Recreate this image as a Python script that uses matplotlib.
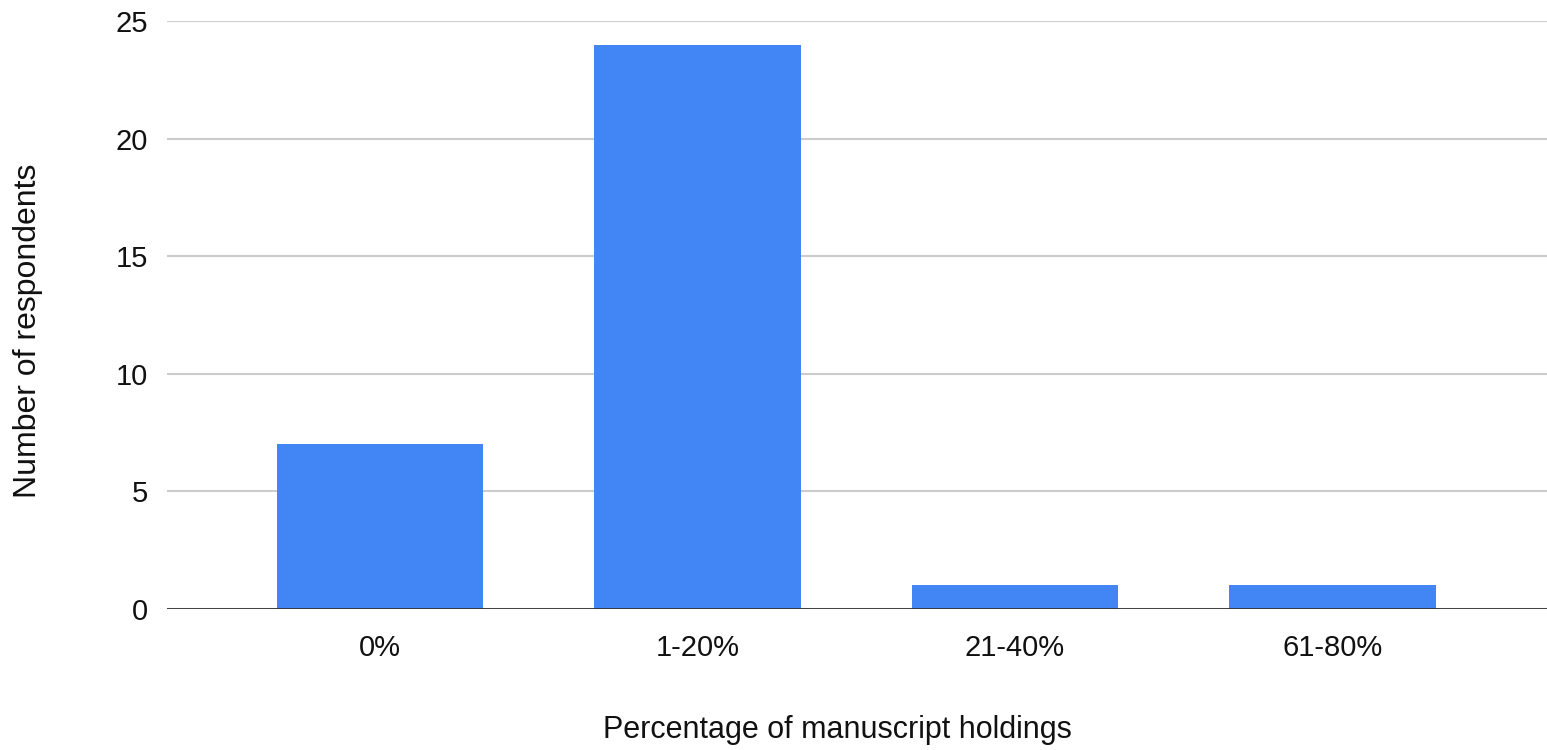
from matplotlib import pyplot as plt

categories = ["0%", "1-20%", "21-40%", "61-80%"]
respondents = [7, 24, 1, 1]

plt.rcParams['font.family'] = ['Liberation Sans', 'DejaVu Sans']

fig = plt.figure(figsize=(15.47, 7.5), dpi=100)
ax = fig.add_axes([0.108, 0.188, 0.892, 0.784])

x = range(len(categories))
ax.bar(x, respondents, width=0.65, color='#4285F4', zorder=3)

ax.set_xlim(-0.67, 3.676)
ax.set_ylim(0, 25)
ax.set_yticks([0, 5, 10, 15, 20, 25])
ax.set_xticks(list(x))
ax.set_xticklabels(categories)
ax.grid(axis='y', color='#cccccc', linewidth=1.5, zorder=0)
ax.axhline(0, color='#333333', linewidth=2, zorder=4)

for s in ax.spines.values():
    s.set_visible(False)
ax.tick_params(axis='both', length=0, labelsize=21, colors='#111111')
ax.tick_params(axis='x', pad=18)
ax.tick_params(axis='y', pad=14)

# axis titles placed by figure fraction to match the reference
fig.text(837 / 1547, 1 - 730 / 750, "Percentage of manuscript holdings", fontsize=22,
         color='#111111', ha='center', va='center')
fig.text(28 / 1547, 1 - 331 / 750, "Number of respondents", fontsize=23,
         color='#111111', ha='center', va='center', rotation=90)

fig.savefig("out.png", dpi=100, facecolor='white')
